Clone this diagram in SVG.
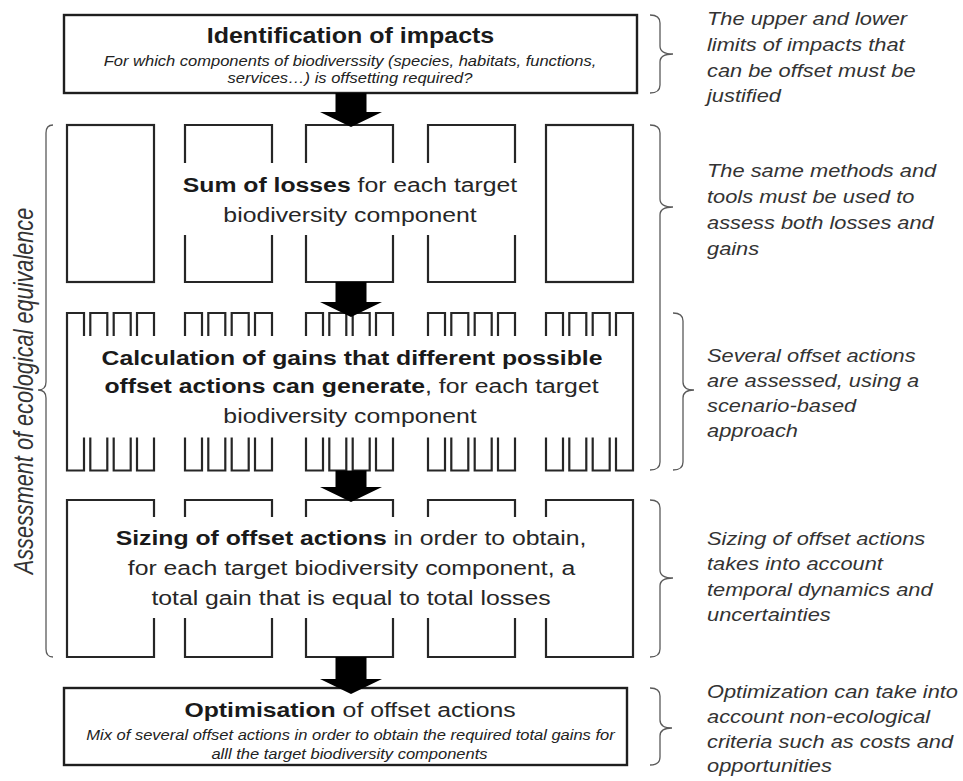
<svg xmlns="http://www.w3.org/2000/svg" width="963" height="781" viewBox="0 0 963 781">
  <style>
    .box { fill: none; stroke: #1e1e1e; stroke-width: 2.4; stroke-linejoin: miter; }
    .col { fill: none; stroke: #262626; stroke-width: 2.2; stroke-linejoin: miter; }
    .arrow { fill: #000; stroke: none; }
    .brace { fill: none; stroke: #5a5a5a; stroke-width: 1.3; }
    .t { font-family: "Liberation Sans", Arial, sans-serif; fill: #1a1a1a; }
    .main { font-size: 21px; text-anchor: middle; }
    .title { font-size: 21.2px; font-weight: bold; text-anchor: middle; }
    .b { font-weight: bold; }
    .reg { fill: #262626; }
    .sub { font-size: 14px; font-style: italic; text-anchor: middle; fill: #222; }
    .note { font-size: 18.5px; font-style: italic; fill: #333; }
    .side { font-size: 21.7px; font-style: italic; text-anchor: middle; fill: #333; }
  </style>

  <rect width="963" height="781" fill="#fff"/>

  <!-- Step 1: identification of impacts -->
  <g id="identification">
    <rect class="box" x="64" y="15" width="573" height="78"/>
    <text class="t title" transform="translate(350.5,43) scale(1.18,1)">Identification of impacts</text>
    <text class="t sub" transform="translate(350,65.5) scale(1.18,1)">For which components of biodiverssity (species, habitats, functions,</text>
    <text class="t sub" transform="translate(350,82.5) scale(1.18,1)">services…) is offsetting required?</text>
  </g>

  <!-- Step 2: sum of losses, five component columns -->
  <g id="sum-of-losses">
    <rect class="col" x="67" y="125" width="87" height="157"/>
    <path class="col" d="M185,163V125H272V163 M185,235V282H272V235"/>
    <path class="col" d="M306,163V125H393V163 M306,235V282H393V235"/>
    <path class="col" d="M428,163V125H515V163 M428,235V282H515V235"/>
    <rect class="col" x="546" y="125" width="87" height="157"/>
    <text class="t main" transform="translate(350,192) scale(1.18,1)"><tspan class="b">Sum of losses</tspan><tspan class="reg"> for each target</tspan></text>
    <text class="t main reg" transform="translate(350,222) scale(1.18,1)">biodiversity component</text>
  </g>

  <!-- Step 3: calculation of gains, comb-shaped columns -->
  <g id="calculation-of-gains">
    <!-- column 1 -->
    <path class="col" d="M84,336V313H67V470.5H84V437.5 M90.3,336V313H107.3V336 M113.7,336V313H130.7V336 M137,336V313H154V336
      M90.3,437.5V470.5H107.3V437.5 M113.7,437.5V470.5H130.7V437.5 M137,437.5V470.5H154V437.5"/>
    <!-- column 2 -->
    <path class="col" d="M185,336V313H202V336 M208.3,336V313H225.3V336 M231.7,336V313H248.7V336 M255,336V313H272V336
      M185,437.5V470.5H202V437.5 M208.3,437.5V470.5H225.3V437.5 M231.7,437.5V470.5H248.7V437.5 M255,437.5V470.5H272V437.5"/>
    <!-- column 3 -->
    <path class="col" d="M306,336V313H323V336 M329.3,336V313H346.3V336 M352.7,336V313H369.7V336 M376,336V313H393V336
      M306,437.5V470.5H323V437.5 M329.3,437.5V470.5H346.3V437.5 M352.7,437.5V470.5H369.7V437.5 M376,437.5V470.5H393V437.5"/>
    <!-- column 4 -->
    <path class="col" d="M428,336V313H445V336 M451.3,336V313H468.3V336 M474.7,336V313H491.7V336 M498,336V313H515V336
      M428,437.5V470.5H445V437.5 M451.3,437.5V470.5H468.3V437.5 M474.7,437.5V470.5H491.7V437.5 M498,437.5V470.5H515V437.5"/>
    <!-- column 5 -->
    <path class="col" d="M546,336V313H563V336 M569.3,336V313H586.3V336 M592.7,336V313H609.7V336 M616,336V313H633V470.5H616V437.5
      M546,437.5V470.5H563V437.5 M569.3,437.5V470.5H586.3V437.5 M592.7,437.5V470.5H609.7V437.5"/>
    <text class="t main b" transform="translate(352,365) scale(1.18,1)">Calculation of gains that different possible</text>
    <text class="t main" transform="translate(351.5,393) scale(1.18,1)"><tspan class="b">offset actions can generate</tspan><tspan class="reg">, for each target</tspan></text>
    <text class="t main reg" transform="translate(350,423) scale(1.18,1)">biodiversity component</text>
  </g>

  <!-- Step 4: sizing of offset actions -->
  <g id="sizing">
    <path class="col" d="M154,517V500H67V657H154V618"/>
    <path class="col" d="M185,517V500H272V517 M185,618V657H272V618"/>
    <path class="col" d="M306,517V500H393V517 M306,618V657H393V618"/>
    <path class="col" d="M428,517V500H515V517 M428,618V657H515V618"/>
    <path class="col" d="M546,517V500H633V657H546V618"/>
    <text class="t main" transform="translate(351,545) scale(1.18,1)"><tspan class="b">Sizing of offset actions</tspan><tspan class="reg"> in order to obtain,</tspan></text>
    <text class="t main reg" transform="translate(351.5,575) scale(1.18,1)">for each target biodiversity component, a</text>
    <text class="t main reg" transform="translate(351,605) scale(1.18,1)">total gain that is equal to total losses</text>
  </g>

  <!-- Step 5: optimisation -->
  <g id="optimisation">
    <rect class="box" x="64" y="688" width="563" height="77"/>
    <text class="t main" transform="translate(350,717) scale(1.18,1)"><tspan class="b">Optimisation</tspan><tspan class="reg"> of offset actions</tspan></text>
    <text class="t sub" transform="translate(350.5,740) scale(1.18,1)">Mix of several offset actions in order to obtain the required total gains for</text>
    <text class="t sub" transform="translate(349.5,758.5) scale(1.18,1)">alll the target biodiversity components</text>
  </g>

  <!-- Block arrows between steps -->
  <g id="connectors">
    <polygon class="arrow" points="335.5,93 366.5,93 366.5,112 382,112 351,127 320,112 335.5,112"/>
    <polygon class="arrow" points="335.5,282 366.5,282 366.5,302 382,302 351,317 320,302 335.5,302"/>
    <polygon class="arrow" points="335.5,470.5 366.5,470.5 366.5,487 382,487 351,502 320,487 335.5,487"/>
    <polygon class="arrow" points="335.5,657 366.5,657 366.5,679 382,679 351,694 320,679 335.5,679"/>
  </g>

  <!-- Braces grouping the steps -->
  <g id="braces">
    <path class="brace" d="M650,15 Q660,15 660,23 V46 Q660,54 673,54 Q660,54 660,62 V85 Q660,93 650,93"/>
    <path class="brace" d="M650,125 Q660,125 660,133 V199 Q660,207 673,207 Q660,207 660,215 V462 Q660,470 650,470"/>
    <path class="brace" d="M673,313 Q683,313 683,321 V382 Q683,390 694,390 Q683,390 683,398 V462 Q683,470 673,470"/>
    <path class="brace" d="M650,500 Q660,500 660,508 V570 Q660,578 673,578 Q660,578 660,586 V649 Q660,657 650,657"/>
    <path class="brace" d="M650,688 Q660,688 660,696 V720 Q660,728 672,728 Q660,728 660,736 V757 Q660,765 650,765"/>
    <path class="brace" d="M53,125 Q46,125 46,133 V382 Q46,390 38,390 Q46,390 46,398 V649 Q46,657 53,657"/>
  </g>

  <!-- Side label for the bracketed steps -->
  <g id="label-equivalence">
    <text class="t side" transform="translate(33,391) rotate(-90) scale(1,1.25)">Assessment of ecological equivalence</text>
  </g>

  <!-- Annotations on the right -->
  <g id="note-limits">
    <text class="t note" transform="translate(707,25) scale(1.18,1)">The upper and lower</text>
    <text class="t note" transform="translate(707,51) scale(1.18,1)">limits of impacts that</text>
    <text class="t note" transform="translate(707,77) scale(1.18,1)">can be offset must be</text>
    <text class="t note" transform="translate(707,102) scale(1.18,1)">justified</text>
  </g>
  <g id="note-methods">
    <text class="t note" transform="translate(707,177) scale(1.18,1)">The same methods and</text>
    <text class="t note" transform="translate(707,203) scale(1.18,1)">tools must be used to</text>
    <text class="t note" transform="translate(707,229) scale(1.18,1)">assess both losses and</text>
    <text class="t note" transform="translate(707,255) scale(1.18,1)">gains</text>
  </g>
  <g id="note-scenarios">
    <text class="t note" transform="translate(707,362) scale(1.18,1)">Several offset actions</text>
    <text class="t note" transform="translate(707,387) scale(1.18,1)">are assessed, using a</text>
    <text class="t note" transform="translate(707,412) scale(1.18,1)">scenario-based</text>
    <text class="t note" transform="translate(707,437) scale(1.18,1)">approach</text>
  </g>
  <g id="note-sizing">
    <text class="t note" transform="translate(707,545) scale(1.18,1)">Sizing of offset actions</text>
    <text class="t note" transform="translate(707,570) scale(1.18,1)">takes into account</text>
    <text class="t note" transform="translate(707,596) scale(1.18,1)">temporal dynamics and</text>
    <text class="t note" transform="translate(707,621) scale(1.18,1)">uncertainties</text>
  </g>
  <g id="note-optimisation">
    <text class="t note" transform="translate(707,698) scale(1.18,1)">Optimization can take into</text>
    <text class="t note" transform="translate(707,723) scale(1.18,1)">account non-ecological</text>
    <text class="t note" transform="translate(707,748) scale(1.18,1)">criteria such as costs and</text>
    <text class="t note" transform="translate(707,772) scale(1.18,1)">opportunities</text>
  </g>
</svg>
